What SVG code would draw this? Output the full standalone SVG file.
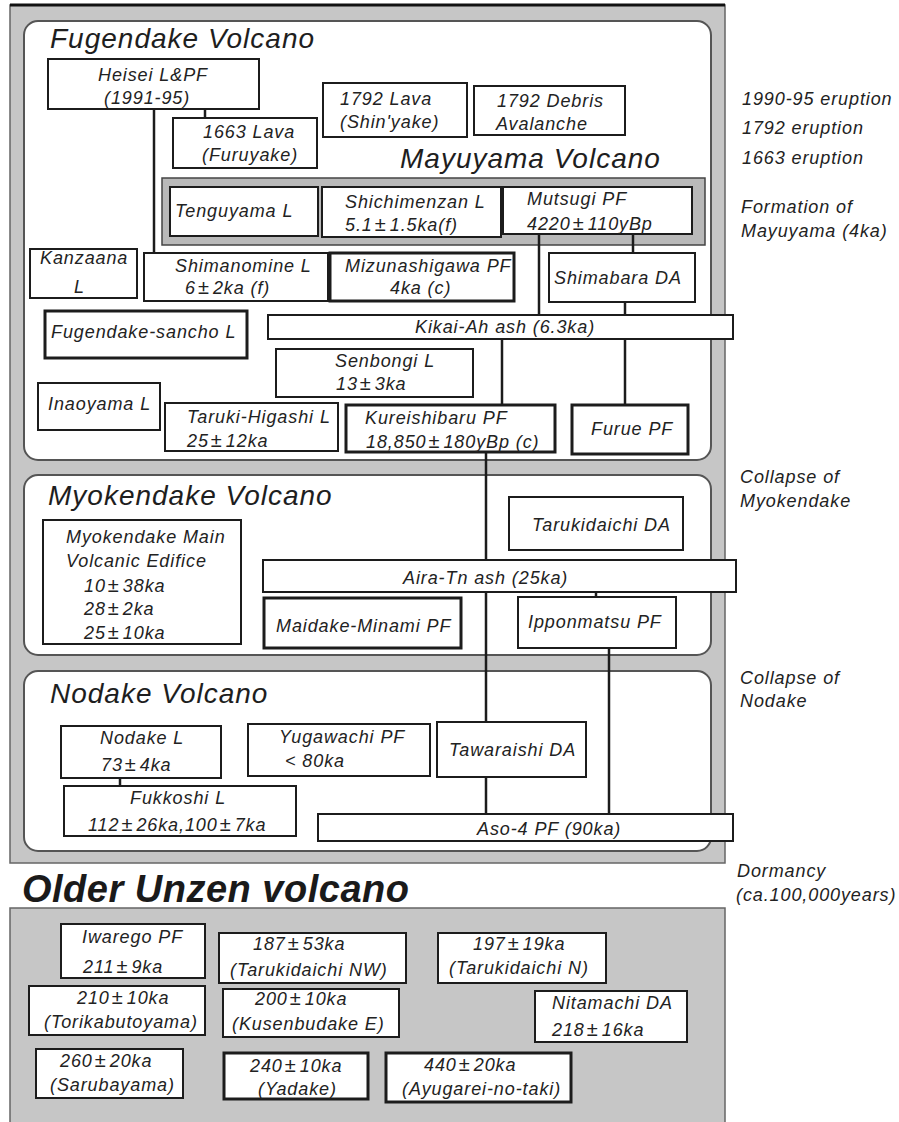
<svg xmlns="http://www.w3.org/2000/svg" width="899" height="1122" viewBox="0 0 899 1122">
<style>
.t{font-family:"Liberation Sans",Arial,Helvetica,sans-serif;font-style:italic;font-size:18px;letter-spacing:0.9px;fill:#222}
.ti{font-size:28px;letter-spacing:1px;fill:#1e1e1e}
.big{font-size:38px;font-weight:bold;letter-spacing:0.5px;fill:#1a1a1a}
.pm{font-style:normal;font-size:20px;letter-spacing:4px}
.box{fill:#fff;stroke:#1c1c1c;stroke-width:2}
.thick{stroke-width:3}
.panel{fill:#fff;stroke:#555;stroke-width:2}
.gray{fill:#c6c6c6;stroke:#666;stroke-width:1.5}
.conn line{stroke:#1c1c1c;stroke-width:2.5}
</style>

<g id="younger-frame">
  <rect class="gray" x="10" y="5" width="715" height="858"/>
  <line x1="10" y1="5" x2="725" y2="5" stroke="#111" stroke-width="3"/>
</g>

<g id="panel-fugendake">
  <rect class="panel" x="24" y="21" width="687" height="439" rx="14"/>
  <text class="t ti" x="50" y="48">Fugendake Volcano</text>
  <text class="t ti" x="400" y="168">Mayuyama Volcano</text>
</g>
<g id="panel-mayuyama">
  <rect x="162" y="178" width="543" height="67" fill="#b9b9b9" stroke="#444" stroke-width="1.5"/>
</g>
<g id="panel-myokendake">
  <rect class="panel" x="24" y="475" width="687" height="180" rx="14"/>
  <text class="t ti" x="48" y="505">Myokendake Volcano</text>
</g>
<g id="panel-nodake">
  <rect class="panel" x="24" y="671" width="687" height="180" rx="14"/>
  <text class="t ti" x="50" y="703">Nodake Volcano</text>
</g>

<g id="connectors" class="conn">
  <line x1="154" y1="109" x2="154" y2="253"/>
  <line x1="205" y1="109" x2="205" y2="118"/>
  <line x1="539" y1="234" x2="539" y2="315"/>
  <line x1="633" y1="234" x2="633" y2="253"/>
  <line x1="625" y1="302" x2="625" y2="315"/>
  <line x1="502" y1="339" x2="502" y2="405"/>
  <line x1="625" y1="339" x2="625" y2="405"/>
  <line x1="486" y1="452" x2="486" y2="722"/>
  <line x1="596" y1="592" x2="596" y2="597"/>
  <line x1="609" y1="648" x2="609" y2="814"/>
  <line x1="486" y1="777" x2="486" y2="814"/>
  <line x1="120" y1="778" x2="120" y2="786"/>
</g>

<g id="n-heisei"><rect class="box" x="48" y="59" width="211" height="50"/><text class="t" x="98" y="81">Heisei L&amp;PF</text><text class="t" x="104" y="104">(1991-95)</text></g>
<g id="n-1663"><rect class="box" x="173" y="118" width="144" height="50"/><text class="t" x="203" y="138">1663 Lava</text><text class="t" x="202" y="161">(Furuyake)</text></g>
<g id="n-1792lava"><rect class="box" x="323" y="83" width="144" height="54"/><text class="t" x="340" y="105">1792 Lava</text><text class="t" x="340" y="128">(Shin'yake)</text></g>
<g id="n-1792debris"><rect class="box" x="474" y="86" width="151" height="49"/><text class="t" x="497" y="107">1792 Debris</text><text class="t" x="496" y="130">Avalanche</text></g>

<g id="n-tenguyama"><rect class="box" x="170" y="187" width="148" height="49"/><text class="t" x="175" y="217">Tenguyama L</text></g>
<g id="n-shichimenzan"><rect class="box" x="322" y="187" width="179" height="50"/><text class="t" x="345" y="208">Shichimenzan L</text><text class="t" x="345" y="231">5.1<tspan class="pm" dx="2">±</tspan>1.5ka(f)</text></g>
<g id="n-mutsugi"><rect class="box" x="503" y="187" width="189" height="47"/><text class="t" x="527" y="205">Mutsugi PF</text><text class="t" x="527" y="230">4220<tspan class="pm" dx="2">±</tspan>110yBp</text></g>

<g id="n-kanzaana"><rect class="box" x="30" y="249" width="107" height="49"/><text class="t" x="40" y="264">Kanzaana</text><text class="t" x="74" y="293">L</text></g>
<g id="n-shimanomine"><rect class="box" x="144" y="253" width="184" height="48"/><text class="t" x="175" y="272">Shimanomine L</text><text class="t" x="185" y="294">6<tspan class="pm" dx="2">±</tspan>2ka (f)</text></g>
<g id="n-mizunashigawa"><rect class="box thick" x="330" y="253" width="184" height="48"/><text class="t" x="345" y="272">Mizunashigawa PF</text><text class="t" x="390" y="294">4ka (c)</text></g>
<g id="n-shimabara"><rect class="box" x="549" y="253" width="146" height="49"/><text class="t" x="554" y="284">Shimabara  DA</text></g>
<g id="n-kikai"><rect class="box" x="268" y="315" width="465" height="24"/><text class="t" x="415" y="333">Kikai-Ah ash (6.3ka)</text></g>
<g id="n-sancho"><rect class="box thick" x="45" y="311" width="202" height="47"/><text class="t" x="51" y="338">Fugendake-sancho L</text></g>
<g id="n-senbongi"><rect class="box" x="276" y="349" width="197" height="48"/><text class="t" x="335" y="367">Senbongi L</text><text class="t" x="336" y="390">13<tspan class="pm" dx="2">±</tspan>3ka</text></g>
<g id="n-inaoyama"><rect class="box" x="38" y="383" width="122" height="47"/><text class="t" x="48" y="410">Inaoyama  L</text></g>
<g id="n-taruki"><rect class="box" x="165" y="403" width="173" height="48"/><text class="t" x="187" y="423">Taruki-Higashi L</text><text class="t" x="187" y="447">25<tspan class="pm" dx="2">±</tspan>12ka</text></g>
<g id="n-kureishibaru"><rect class="box thick" x="346" y="405" width="209" height="47"/><text class="t" x="365" y="424">Kureishibaru PF</text><text class="t" x="366" y="448">18,850<tspan class="pm" dx="2">±</tspan>180yBp (c)</text></g>
<g id="n-furue"><rect class="box thick" x="572" y="405" width="116" height="49"/><text class="t" x="591" y="435">Furue PF</text></g>

<g id="n-myokendake-main"><rect class="box" x="43" y="520" width="198" height="124"/>
  <text class="t" x="66" y="543">Myokendake Main</text>
  <text class="t" x="66" y="567">Volcanic Edifice</text>
  <text class="t" x="84" y="592">10<tspan class="pm" dx="2">±</tspan>38ka</text>
  <text class="t" x="84" y="615">28<tspan class="pm" dx="2">±</tspan>2ka</text>
  <text class="t" x="84" y="639">25<tspan class="pm" dx="2">±</tspan>10ka</text></g>
<g id="n-tarukidaichi"><rect class="box" x="509" y="497" width="174" height="53"/><text class="t" x="532" y="531">Tarukidaichi DA</text></g>
<g id="n-aira"><rect class="box" x="263" y="560" width="473" height="32"/><text class="t" x="403" y="584">Aira-Tn ash  (25ka)</text></g>
<g id="n-maidake"><rect class="box thick" x="264" y="598" width="197" height="50"/><text class="t" x="276" y="632">Maidake-Minami PF</text></g>
<g id="n-ipponmatsu"><rect class="box" x="518" y="597" width="158" height="51"/><text class="t" x="528" y="628">Ipponmatsu PF</text></g>

<g id="n-nodake"><rect class="box" x="61" y="726" width="160" height="52"/><text class="t" x="100" y="744">Nodake L</text><text class="t" x="101" y="771">73<tspan class="pm" dx="2">±</tspan>4ka</text></g>
<g id="n-fukkoshi"><rect class="box" x="64" y="786" width="232" height="50"/><text class="t" x="130" y="804">Fukkoshi L</text><text class="t" x="88" y="831">112<tspan class="pm" dx="2">±</tspan>26ka,100<tspan class="pm" dx="2">±</tspan>7ka</text></g>
<g id="n-yugawachi"><rect class="box" x="248" y="724" width="182" height="52"/><text class="t" x="279" y="743">Yugawachi PF</text><text class="t" x="285" y="767">&lt; 80ka</text></g>
<g id="n-tawaraishi"><rect class="box" x="437" y="722" width="149" height="55"/><text class="t" x="449" y="756">Tawaraishi DA</text></g>
<g id="n-aso"><rect class="box" x="318" y="814" width="415" height="27"/><text class="t" x="477" y="835">Aso-4 PF (90ka)</text></g>

<g id="annotations">
  <text class="t" x="742" y="105">1990-95 eruption</text>
  <text class="t" x="742" y="134">1792 eruption</text>
  <text class="t" x="742" y="164">1663 eruption</text>
  <text class="t" x="741" y="213">Formation of</text>
  <text class="t" x="741" y="237">Mayuyama (4ka)</text>
  <text class="t" x="740" y="483">Collapse of</text>
  <text class="t" x="740" y="507">Myokendake</text>
  <text class="t" x="740" y="684">Collapse of</text>
  <text class="t" x="740" y="707">Nodake</text>
  <text class="t" x="737" y="877">Dormancy</text>
  <text class="t" x="736" y="901">(ca.100,000years)</text>
</g>

<g id="older-title"><text class="t big" x="22" y="902">Older Unzen volcano</text></g>
<g id="older-frame"><rect class="gray" x="10" y="908" width="715" height="220" stroke="#444"/></g>

<g id="n-iwarego"><rect class="box" x="61" y="924" width="144" height="54"/><text class="t" x="82" y="943">Iwarego PF</text><text class="t" x="83" y="973">211<tspan class="pm" dx="2">±</tspan>9ka</text></g>
<g id="n-tarukidaichi-nw"><rect class="box" x="219" y="933" width="187" height="50"/><text class="t" x="253" y="950">187<tspan class="pm" dx="2">±</tspan>53ka</text><text class="t" x="230" y="976">(Tarukidaichi NW)</text></g>
<g id="n-tarukidaichi-n"><rect class="box" x="438" y="933" width="168" height="50"/><text class="t" x="473" y="950">197<tspan class="pm" dx="2">±</tspan>19ka</text><text class="t" x="449" y="974">(Tarukidaichi N)</text></g>
<g id="n-torikabutoyama"><rect class="box" x="29" y="986" width="176" height="49"/><text class="t" x="77" y="1004">210<tspan class="pm" dx="2">±</tspan>10ka</text><text class="t" x="44" y="1028">(Torikabutoyama)</text></g>
<g id="n-kusenbudake"><rect class="box" x="223" y="989" width="176" height="48"/><text class="t" x="255" y="1005">200<tspan class="pm" dx="2">±</tspan>10ka</text><text class="t" x="232" y="1030">(Kusenbudake E)</text></g>
<g id="n-nitamachi"><rect class="box" x="535" y="991" width="152" height="51"/><text class="t" x="552" y="1009">Nitamachi DA</text><text class="t" x="552" y="1036">218<tspan class="pm" dx="2">±</tspan>16ka</text></g>
<g id="n-sarubayama"><rect class="box" x="36" y="1049" width="147" height="49"/><text class="t" x="60" y="1067">260<tspan class="pm" dx="2">±</tspan>20ka</text><text class="t" x="50" y="1091">(Sarubayama)</text></g>
<g id="n-yadake"><rect class="box thick" x="224" y="1053" width="144" height="46"/><text class="t" x="250" y="1072">240<tspan class="pm" dx="2">±</tspan>10ka</text><text class="t" x="258" y="1095">(Yadake)</text></g>
<g id="n-ayugarei"><rect class="box thick" x="386" y="1053" width="185" height="49"/><text class="t" x="424" y="1071">440<tspan class="pm" dx="2">±</tspan>20ka</text><text class="t" x="402" y="1095">(Ayugarei-no-taki)</text></g>
</svg>
